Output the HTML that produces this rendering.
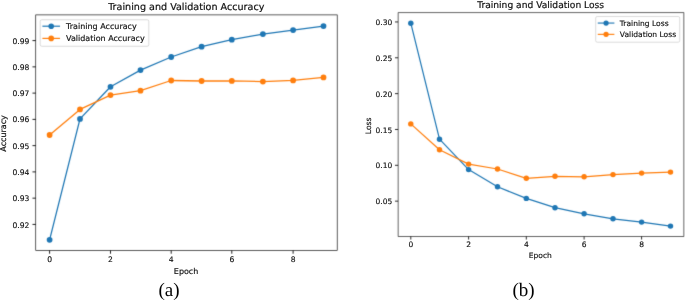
<!DOCTYPE html>
<html lang="en">
<head>
<meta charset="utf-8">
<title>Training and Validation Accuracy / Loss</title>
<style>
html,body{margin:0;padding:0;background:#fff;}
body{width:685px;height:300px;overflow:hidden;}
svg{display:block;}
svg text{font-family:"DejaVu Sans", "Liberation Sans", sans-serif;fill:#111;stroke:#111;stroke-width:0.02em;text-rendering:geometricPrecision;}
svg text.cap{font-family:"Liberation Serif", "DejaVu Serif", serif;fill:#000;stroke:none;}
</style>
</head>
<body>
<svg width="685" height="300" viewBox="0 0 685 300">
<rect width="685" height="300" fill="#fff"/>
<defs><filter id="soft" x="-2%" y="-2%" width="104%" height="104%" color-interpolation-filters="sRGB"><feConvolveMatrix order="3" kernelMatrix="0.0121 0.0858 0.0121 0.0858 0.6084 0.0858 0.0121 0.0858 0.0121" divisor="1" edgeMode="duplicate" preserveAlpha="false"/></filter></defs>
<g filter="url(#soft)">
<rect x="35.75" y="14.9" width="301.45" height="235.55" fill="#fff" stroke="#000" stroke-width="0.64"/>
<polyline points="49.6,239.8 80,118.9 110.5,86.8 140.5,70.1 171.2,57 201.6,46.7 231.8,39.7 262.9,34.1 293.1,30.1 323.5,26.1" fill="none" stroke="#1f77b4" stroke-width="1.28" stroke-linejoin="round"/>
<circle cx="49.6" cy="239.8" r="2.88" fill="#1f77b4"/>
<circle cx="80" cy="118.9" r="2.88" fill="#1f77b4"/>
<circle cx="110.5" cy="86.8" r="2.88" fill="#1f77b4"/>
<circle cx="140.5" cy="70.1" r="2.88" fill="#1f77b4"/>
<circle cx="171.2" cy="57" r="2.88" fill="#1f77b4"/>
<circle cx="201.6" cy="46.7" r="2.88" fill="#1f77b4"/>
<circle cx="231.8" cy="39.7" r="2.88" fill="#1f77b4"/>
<circle cx="262.9" cy="34.1" r="2.88" fill="#1f77b4"/>
<circle cx="293.1" cy="30.1" r="2.88" fill="#1f77b4"/>
<circle cx="323.5" cy="26.1" r="2.88" fill="#1f77b4"/>
<polyline points="49.6,135 80,109.4 110.5,95.1 140.5,90.7 171.2,80.5 201.6,81 231.8,80.9 262.9,81.6 293.1,80.4 323.5,77.4" fill="none" stroke="#ff7f0e" stroke-width="1.28" stroke-linejoin="round"/>
<circle cx="49.6" cy="135" r="2.88" fill="#ff7f0e"/>
<circle cx="80" cy="109.4" r="2.88" fill="#ff7f0e"/>
<circle cx="110.5" cy="95.1" r="2.88" fill="#ff7f0e"/>
<circle cx="140.5" cy="90.7" r="2.88" fill="#ff7f0e"/>
<circle cx="171.2" cy="80.5" r="2.88" fill="#ff7f0e"/>
<circle cx="201.6" cy="81" r="2.88" fill="#ff7f0e"/>
<circle cx="231.8" cy="80.9" r="2.88" fill="#ff7f0e"/>
<circle cx="262.9" cy="81.6" r="2.88" fill="#ff7f0e"/>
<circle cx="293.1" cy="80.4" r="2.88" fill="#ff7f0e"/>
<circle cx="323.5" cy="77.4" r="2.88" fill="#ff7f0e"/>
<line x1="49.6" y1="250.45" x2="49.6" y2="253.73" stroke="#000" stroke-width="0.88"/>
<line x1="110.5" y1="250.45" x2="110.5" y2="253.73" stroke="#000" stroke-width="0.88"/>
<line x1="171.2" y1="250.45" x2="171.2" y2="253.73" stroke="#000" stroke-width="0.88"/>
<line x1="231.8" y1="250.45" x2="231.8" y2="253.73" stroke="#000" stroke-width="0.88"/>
<line x1="293.1" y1="250.45" x2="293.1" y2="253.73" stroke="#000" stroke-width="0.88"/>
<line x1="32.47" y1="224.42" x2="35.75" y2="224.42" stroke="#000" stroke-width="0.88"/>
<line x1="32.47" y1="198.16" x2="35.75" y2="198.16" stroke="#000" stroke-width="0.88"/>
<line x1="32.47" y1="171.9" x2="35.75" y2="171.9" stroke="#000" stroke-width="0.88"/>
<line x1="32.47" y1="145.64" x2="35.75" y2="145.64" stroke="#000" stroke-width="0.88"/>
<line x1="32.47" y1="119.38" x2="35.75" y2="119.38" stroke="#000" stroke-width="0.88"/>
<line x1="32.47" y1="93.12" x2="35.75" y2="93.12" stroke="#000" stroke-width="0.88"/>
<line x1="32.47" y1="66.86" x2="35.75" y2="66.86" stroke="#000" stroke-width="0.88"/>
<line x1="32.47" y1="40.6" x2="35.75" y2="40.6" stroke="#000" stroke-width="0.88"/>
<rect x="40.2" y="19.75" width="108.6" height="26.5" rx="1.6" fill="#fff" fill-opacity="0.8" stroke="#c4c4c4" stroke-width="0.64"/>
<line x1="42.4" y1="26.2" x2="60" y2="26.2" stroke="#1f77b4" stroke-width="1.2"/>
<circle cx="51.2" cy="26.2" r="2.8" fill="#1f77b4"/>
<line x1="42.4" y1="38.4" x2="60" y2="38.4" stroke="#ff7f0e" stroke-width="1.2"/>
<circle cx="51.2" cy="38.4" r="2.8" fill="#ff7f0e"/>
<rect x="398.1" y="12.75" width="285.8" height="223.7" fill="#fff" stroke="#000" stroke-width="0.6"/>
<polyline points="410.8,23.2 439.5,139.2 468.6,169.6 497.5,186.8 526.3,198.4 555,207.7 584.1,213.8 613,218.8 641.6,222.1 670.5,226.1" fill="none" stroke="#1f77b4" stroke-width="1.21" stroke-linejoin="round"/>
<circle cx="410.8" cy="23.2" r="2.72" fill="#1f77b4"/>
<circle cx="439.5" cy="139.2" r="2.72" fill="#1f77b4"/>
<circle cx="468.6" cy="169.6" r="2.72" fill="#1f77b4"/>
<circle cx="497.5" cy="186.8" r="2.72" fill="#1f77b4"/>
<circle cx="526.3" cy="198.4" r="2.72" fill="#1f77b4"/>
<circle cx="555" cy="207.7" r="2.72" fill="#1f77b4"/>
<circle cx="584.1" cy="213.8" r="2.72" fill="#1f77b4"/>
<circle cx="613" cy="218.8" r="2.72" fill="#1f77b4"/>
<circle cx="641.6" cy="222.1" r="2.72" fill="#1f77b4"/>
<circle cx="670.5" cy="226.1" r="2.72" fill="#1f77b4"/>
<polyline points="410.8,123.9 439.5,149.7 468.6,164.1 497.5,169 526.3,178.3 555,176.3 584.1,176.8 613,174.6 641.6,173.1 670.5,172.1" fill="none" stroke="#ff7f0e" stroke-width="1.21" stroke-linejoin="round"/>
<circle cx="410.8" cy="123.9" r="2.72" fill="#ff7f0e"/>
<circle cx="439.5" cy="149.7" r="2.72" fill="#ff7f0e"/>
<circle cx="468.6" cy="164.1" r="2.72" fill="#ff7f0e"/>
<circle cx="497.5" cy="169" r="2.72" fill="#ff7f0e"/>
<circle cx="526.3" cy="178.3" r="2.72" fill="#ff7f0e"/>
<circle cx="555" cy="176.3" r="2.72" fill="#ff7f0e"/>
<circle cx="584.1" cy="176.8" r="2.72" fill="#ff7f0e"/>
<circle cx="613" cy="174.6" r="2.72" fill="#ff7f0e"/>
<circle cx="641.6" cy="173.1" r="2.72" fill="#ff7f0e"/>
<circle cx="670.5" cy="172.1" r="2.72" fill="#ff7f0e"/>
<line x1="410.8" y1="236.45" x2="410.8" y2="239.55" stroke="#000" stroke-width="0.83"/>
<line x1="468.6" y1="236.45" x2="468.6" y2="239.55" stroke="#000" stroke-width="0.83"/>
<line x1="526.3" y1="236.45" x2="526.3" y2="239.55" stroke="#000" stroke-width="0.83"/>
<line x1="584.1" y1="236.45" x2="584.1" y2="239.55" stroke="#000" stroke-width="0.83"/>
<line x1="641.6" y1="236.45" x2="641.6" y2="239.55" stroke="#000" stroke-width="0.83"/>
<line x1="395" y1="201.15" x2="398.1" y2="201.15" stroke="#000" stroke-width="0.83"/>
<line x1="395" y1="165.31" x2="398.1" y2="165.31" stroke="#000" stroke-width="0.83"/>
<line x1="395" y1="129.47" x2="398.1" y2="129.47" stroke="#000" stroke-width="0.83"/>
<line x1="395" y1="93.63" x2="398.1" y2="93.63" stroke="#000" stroke-width="0.83"/>
<line x1="395" y1="57.79" x2="398.1" y2="57.79" stroke="#000" stroke-width="0.83"/>
<line x1="395" y1="21.95" x2="398.1" y2="21.95" stroke="#000" stroke-width="0.83"/>
<rect x="595.7" y="16.5" width="84" height="25.7" rx="1.51" fill="#fff" fill-opacity="0.8" stroke="#c4c4c4" stroke-width="0.6"/>
<line x1="597.75" y1="23.06" x2="614.39" y2="23.06" stroke="#1f77b4" stroke-width="1.13"/>
<circle cx="606.07" cy="23.06" r="2.64" fill="#1f77b4"/>
<line x1="597.75" y1="34.36" x2="614.39" y2="34.36" stroke="#ff7f0e" stroke-width="1.13"/>
<circle cx="606.07" cy="34.36" r="2.64" fill="#ff7f0e"/>
</g>
<g>
<text x="49.6" y="261.9" font-size="7.6" text-anchor="middle">0</text>
<text x="110.5" y="261.9" font-size="7.6" text-anchor="middle">2</text>
<text x="171.2" y="261.9" font-size="7.6" text-anchor="middle">4</text>
<text x="231.8" y="261.9" font-size="7.6" text-anchor="middle">6</text>
<text x="293.1" y="261.9" font-size="7.6" text-anchor="middle">8</text>
<text x="29.4" y="227.52" font-size="7.6" text-anchor="end">0.92</text>
<text x="29.4" y="201.26" font-size="7.6" text-anchor="end">0.93</text>
<text x="29.4" y="175" font-size="7.6" text-anchor="end">0.94</text>
<text x="29.4" y="148.74" font-size="7.6" text-anchor="end">0.95</text>
<text x="29.4" y="122.48" font-size="7.6" text-anchor="end">0.96</text>
<text x="29.4" y="96.22" font-size="7.6" text-anchor="end">0.97</text>
<text x="29.4" y="69.96" font-size="7.6" text-anchor="end">0.98</text>
<text x="29.4" y="43.7" font-size="7.6" text-anchor="end">0.99</text>
<text x="66.1" y="29" font-size="8">Training Accuracy</text>
<text x="66.1" y="41.2" font-size="8">Validation Accuracy</text>
<text x="186.3" y="10" font-size="9.6" text-anchor="middle">Training and Validation Accuracy</text>
<text x="186.1" y="273.7" font-size="8" text-anchor="middle">Epoch</text>
<text transform="translate(6.4,133.4) rotate(-90)" font-size="8" text-anchor="middle">Accuracy</text>
<text x="410.8" y="247.1" font-size="7.5" text-anchor="middle">0</text>
<text x="468.6" y="247.1" font-size="7.5" text-anchor="middle">2</text>
<text x="526.3" y="247.1" font-size="7.5" text-anchor="middle">4</text>
<text x="584.1" y="247.1" font-size="7.5" text-anchor="middle">6</text>
<text x="641.6" y="247.1" font-size="7.5" text-anchor="middle">8</text>
<text x="392.2" y="204.2" font-size="7.5" text-anchor="end">0.05</text>
<text x="392.2" y="168.36" font-size="7.5" text-anchor="end">0.10</text>
<text x="392.2" y="132.52" font-size="7.5" text-anchor="end">0.15</text>
<text x="392.2" y="96.68" font-size="7.5" text-anchor="end">0.20</text>
<text x="392.2" y="60.84" font-size="7.5" text-anchor="end">0.25</text>
<text x="392.2" y="25" font-size="7.5" text-anchor="end">0.30</text>
<text x="619.86" y="25.7" font-size="7.55">Training Loss</text>
<text x="619.86" y="37" font-size="7.55">Validation Loss</text>
<text x="540.65" y="7.7" font-size="9.15" text-anchor="middle">Training and Validation Loss</text>
<text x="540.3" y="258.2" font-size="7.55" text-anchor="middle">Epoch</text>
<text transform="translate(371.1,125.9) rotate(-90)" font-size="7.55" text-anchor="middle">Loss</text>
<text class="cap" x="169.0" y="295.8" font-size="19" text-anchor="middle">(a)</text>
<text class="cap" x="523.5" y="295.8" font-size="19" text-anchor="middle">(b)</text>
</g>
</svg>
</body>
</html>
